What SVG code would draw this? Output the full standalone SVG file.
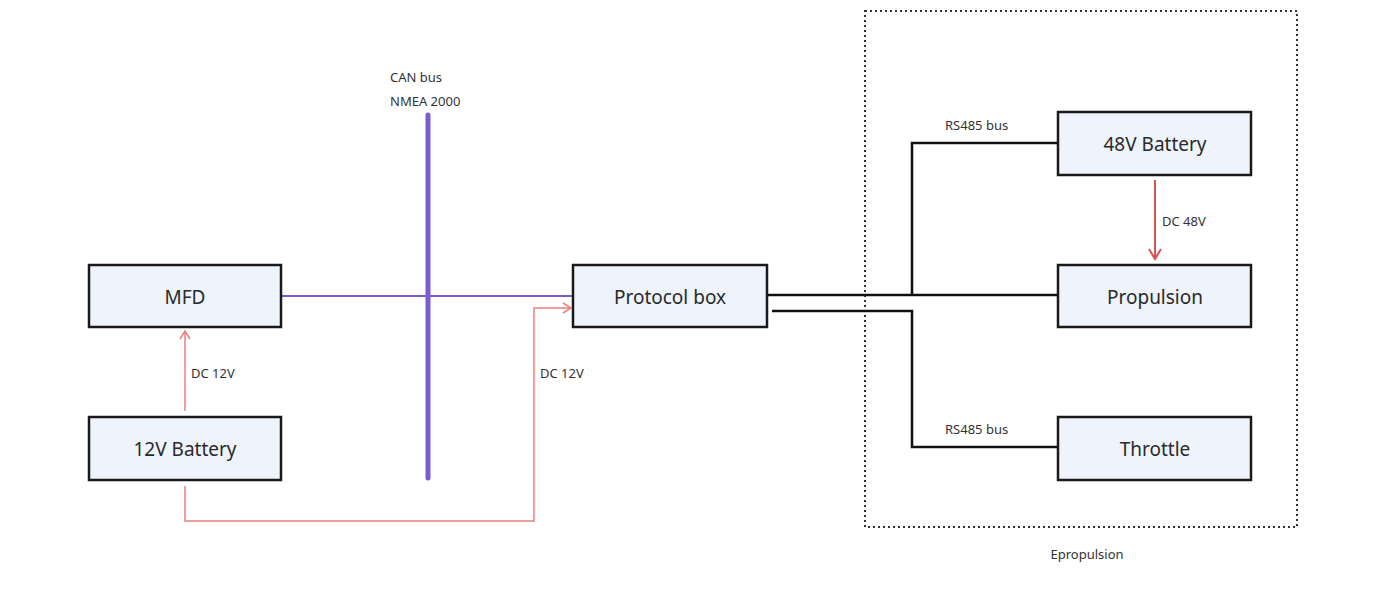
<svg xmlns="http://www.w3.org/2000/svg" width="1377" height="596" viewBox="0 0 1377 596">
<style>
.n{fill:#eef3fc;stroke:#1a1a1a;stroke-width:2.5}
.t{font-family:"Noto Sans","Open Sans",sans-serif;font-size:19px;fill:#2a2a2a;text-anchor:middle}
.l{font-family:"Noto Sans","Open Sans",sans-serif;font-size:13px;fill:#333}
.k{fill:none;stroke:#111;stroke-width:2.5}
.r{fill:none;stroke:#e8807a;stroke-width:1.5}
</style>
<defs>
<marker id="ar" markerWidth="12" markerHeight="12" refX="10" refY="6" orient="auto" markerUnits="userSpaceOnUse"><path d="M2,1 L10,6 L2,11" fill="none" stroke="#e8807a" stroke-width="1.5"/></marker>
<marker id="ad" markerWidth="14" markerHeight="14" refX="12" refY="7" orient="auto" markerUnits="userSpaceOnUse"><path d="M2,1 L12,7 L2,13" fill="none" stroke="#d9534f" stroke-width="2"/></marker>
</defs>
<rect x="865" y="11" width="432" height="516" fill="none" stroke="#333" stroke-width="2" stroke-dasharray="2,3"/>
<text class="l" x="1087" y="559" text-anchor="middle">Epropulsion</text>
<g id="connectors">
<line x1="428" y1="115" x2="428" y2="478" stroke="#7d5bd1" stroke-width="5" stroke-linecap="round"/>
<text class="l" x="390" y="82">CAN bus</text>
<text class="l" x="390" y="106">NMEA 2000</text>
<line x1="281" y1="296" x2="573" y2="296" stroke="#7d5bd1" stroke-width="2"/>
<path class="r" d="M185,411 V331" marker-end="url(#ar)"/>
<text class="l" x="191" y="378">DC 12V</text>
<path class="r" d="M185,486 V521 H534 V308 H571" marker-end="url(#ar)"/>
<text class="l" x="540" y="378">DC 12V</text>
<path class="k" d="M767,295 H1058"/>
<path class="k" d="M912,295 V143 H1057"/>
<path class="k" d="M772,311 H912 V447 H1057"/>
<text class="l" x="945" y="130">RS485 bus</text>
<text class="l" x="945" y="434">RS485 bus</text>
<path d="M1155,180 V259" fill="none" stroke="#d9534f" stroke-width="2" marker-end="url(#ad)"/>
<text class="l" x="1162" y="226">DC 48V</text>
</g>
<g id="mfd"><rect class="n" x="89" y="265" width="192" height="62"/><text class="t" x="185" y="304">MFD</text></g>
<g id="battery12"><rect class="n" x="89" y="417" width="192" height="63"/><text class="t" x="185" y="456">12V Battery</text></g>
<g id="protocol"><rect class="n" x="573" y="265" width="194" height="62"/><text class="t" x="670" y="304">Protocol box</text></g>
<g id="battery48"><rect class="n" x="1058" y="112" width="193" height="63"/><text class="t" x="1155" y="151">48V Battery</text></g>
<g id="propulsion"><rect class="n" x="1058" y="265" width="193" height="62"/><text class="t" x="1155" y="304">Propulsion</text></g>
<g id="throttle"><rect class="n" x="1058" y="417" width="193" height="63"/><text class="t" x="1155" y="456">Throttle</text></g>
</svg>
